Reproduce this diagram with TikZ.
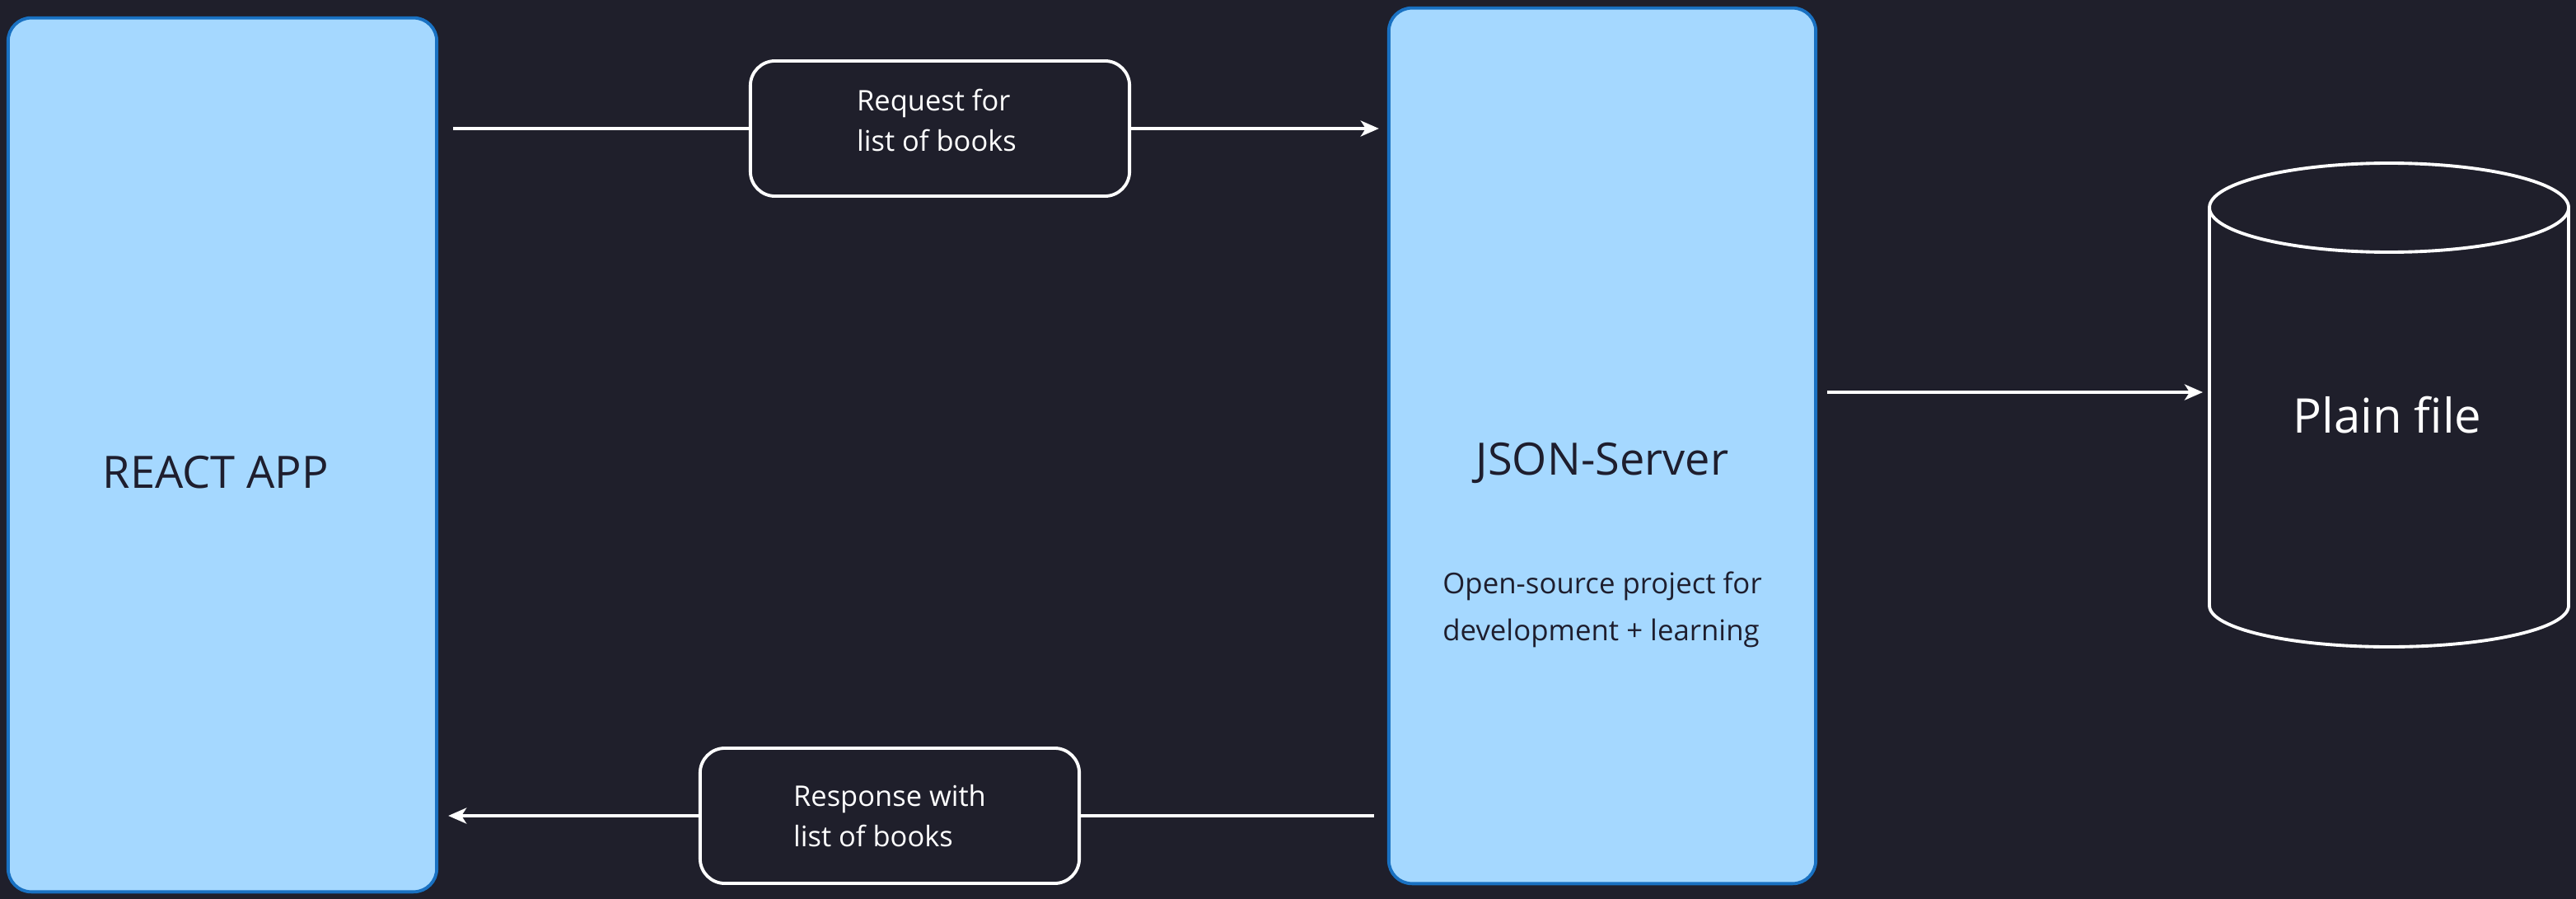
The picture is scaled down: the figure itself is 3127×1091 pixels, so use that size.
\documentclass[tikz,border=0pt]{standalone}
\usepackage{fontspec}
\setmainfont{Open Sans}
\usepackage{tikz}
\usetikzlibrary{arrows.meta}
\definecolor{bg}{HTML}{1F1F2B}
\definecolor{sky}{HTML}{A5D8FF}
\definecolor{edge}{HTML}{1971C2}
\definecolor{ink}{HTML}{1E1E2E}
\tikzset{
  block/.style={rectangle,draw=edge,fill=sky,line width=1.1pt,rounded corners=0.28cm,
    minimum width=5.2cm,inner sep=0pt,outer sep=0pt},
  msg/.style={rectangle,draw=white,fill=bg,line width=1.1pt,rounded corners=0.3cm,
    minimum width=4.6cm,minimum height=1.64cm,outer sep=0pt},
  msgtxt/.style={text=white,align=left,font=\fontsize{9.8}{13.7}\selectfont},
  big/.style={font=\fontsize{15.4}{18}\selectfont},
  wire/.style={draw=white,line width=1.1pt},
  arr/.style={wire,-{Stealth[length=0.22cm,width=0.19cm,inset=0.06cm]}}
}
\begin{document}
\begin{tikzpicture}[x=0.01cm,y=-0.01cm]
\useasboundingbox (0,0) rectangle (3127,1091);
\fill[bg] (0,0) rectangle (3127,1091);
% the two apps
\path (270,552) node(app) [block,minimum height=10.6cm]{};
\path (app.center) ++(-8,21) node(apptxt) [text=ink,big]{REACT APP};
\path (1945,541) node(srv) [block,minimum width=5.18cm,minimum height=10.62cm]{};
\path (srv.center) ++(0,21) node(srvtxt) [text=ink,big]{JSON-Server};
\path (srv.center) ++(0,199) node(srvnote) [text=ink,align=left,font=\fontsize{9.9}{16.2}\selectfont]{Open-source project for\\
development + learning};
% messages
\path (1141,156) node(req) [msg]{};
\path (req.center) ++(-4,-10) node(reqtxt) [msgtxt]{Request for\\
list of books};
\path (1080,990) node(res) [msg]{};
\path (res.center) node(restxt) [msgtxt]{Response with\\
list of books};
\draw[wire,shorten <=0.2cm] (app.east |- req.west) -- (req.west);
\draw[arr,shorten >=0.12cm] (req.east) -- (srv.west |- req.east);
\draw[wire,shorten <=0.18cm] (srv.west |- res.east) -- (res.east);
\draw[arr,shorten >=0.14cm] (res.west) -- (app.east |- res.west);
% plain file
\draw[wire] (2900,252) ellipse [x radius=218,y radius=54];
\draw[wire] (2682,252) -- (2682,735) arc[start angle=180,end angle=0,x radius=218,y radius=50] -- (3118,252);
\path (2898,504) node(file) [text=white,font=\fontsize{16.5}{19}\selectfont]{Plain file};
\coordinate (db) at (2682,476);
\draw[arr,shorten <=0.14cm,shorten >=0.08cm] (srv.east |- db) -- (db);
\end{tikzpicture}
\end{document}
